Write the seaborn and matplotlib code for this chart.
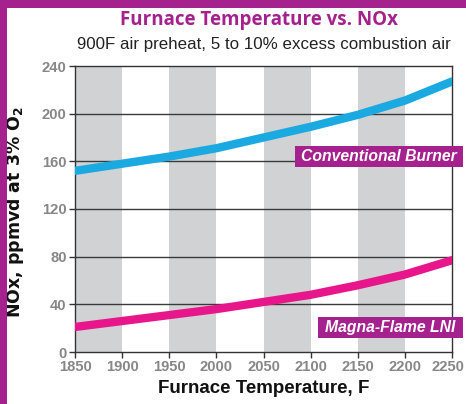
import numpy as np
import pandas as pd
import seaborn as sns
import matplotlib.pyplot as plt
import matplotlib.transforms as mtransforms
from matplotlib.patches import Rectangle

# values
temps = [1850, 1900, 1950, 2000, 2050, 2100, 2150, 2200, 2250]
conventional = [152, 158, 164, 171, 180, 189, 199, 211, 227]
magna_flame = [21, 26, 31, 36, 42, 48, 56, 65, 77]
series_names = ["Conventional Burner", "Magna-Flame LNI"]
gray_bands = [(1850, 1900), (1950, 2000), (2050, 2100), (2150, 2200)]
y_ticks = [0, 40, 80, 120, 160, 200, 240]

purple = "#A4218E"
colors = {"Conventional Burner": "#1BA9E1", "Magna-Flame LNI": "#E8168B"}

df = pd.DataFrame({
    "temp": temps * 2,
    "nox": conventional + magna_flame,
    "series": [series_names[0]] * len(temps) + [series_names[1]] * len(temps),
})

sns.set_style("white")
plt.rcParams['font.family'] = ['Liberation Sans', 'DejaVu Sans']

fig = plt.figure(figsize=(4.66, 4.04), dpi=100, facecolor="white")
# purple frame on top and left edge
fig.patches.append(Rectangle((0, 1 - 8 / 404), 1, 8 / 404, transform=fig.transFigure,
                             facecolor=purple, edgecolor="none", zorder=0))
fig.patches.append(Rectangle((0, 0), 7 / 466, 1, transform=fig.transFigure,
                             facecolor=purple, edgecolor="none", zorder=0))
ax = fig.add_axes([75 / 466, 52 / 404, 377 / 466, 286 / 404])

for a, b in gray_bands:
    ax.axvspan(a, b, color="#D1D2D4", lw=0, zorder=0)
for y in y_ticks[1:-1]:
    ax.axhline(y, color="#3a3a3a", lw=1, zorder=1)

sns.lineplot(data=df, x="temp", y="nox", hue="series", palette=colors, lw=6,
             legend=False, ax=ax, zorder=3)

ax.set_xlim(1850, 2250)
ax.set_ylim(0, 240)
ax.set_xticks(temps)
ax.set_yticks(y_ticks)
ax.tick_params(axis="both", which="both", direction="out", length=4, width=1, color="#333333",
               labelcolor="#878787", labelsize=10.6, bottom=True, left=True, pad=2)
for lab in ax.get_xticklabels() + ax.get_yticklabels():
    lab.set_fontweight("bold")
# last x label sits a little left so it stays inside the picture
last = ax.get_xticklabels()[-1]
last.set_transform(last.get_transform() + mtransforms.ScaledTranslation(-4 / 100, 0, fig.dpi_scale_trans))
for s in ax.spines.values():
    s.set_color("#333333")
    s.set_linewidth(1)

ax.set_xlabel("Furnace Temperature, F", fontsize=13.5, fontweight="bold", color="#111111", labelpad=4)
ax.set_ylabel("NOx, ppmvd at 3% O$_\\mathbf{2}$", fontsize=12.5, fontweight="bold", color="#111111",
              family=["DejaVu Sans"])
ax.yaxis.set_label_coords(-0.13, 0.49)

fig.text(259 / 466, 1 - 20 / 404, "Furnace Temperature vs. NOx", ha="center", va="center",
         fontsize=13.5, fontweight="bold", color=purple, family=["Open Sans", "DejaVu Sans"])
fig.text(264 / 466, 1 - 45 / 404, "900F air preheat, 5 to 10% excess combustion air", ha="center",
         va="center", fontsize=12.2, color="#222222")

# series labels in purple boxes
for name, (x0, x1, y0, y1) in zip(series_names, [(295, 463, 146, 167), (318, 463, 317, 338)]):
    fig.patches.append(Rectangle((x0 / 466, 1 - y1 / 404), (x1 - x0) / 466, (y1 - y0) / 404,
                                 transform=fig.transFigure, facecolor=purple, edgecolor="none", zorder=5))
    fig.text((x0 + x1) / 2 / 466, 1 - (y0 + y1) / 2 / 404, name, ha="center", va="center",
             fontsize=11.3, fontweight="bold", fontstyle="italic", color="white", zorder=6)

fig.savefig("out.png", dpi=100)
